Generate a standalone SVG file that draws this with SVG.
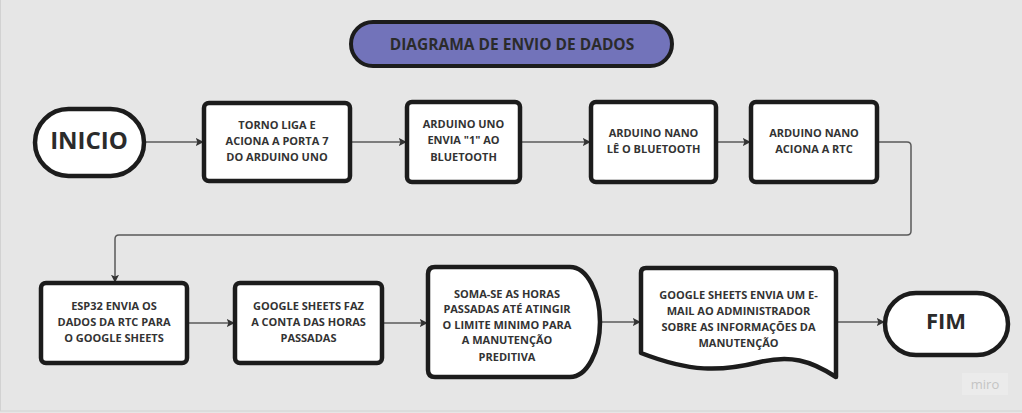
<svg xmlns="http://www.w3.org/2000/svg" width="1022" height="413" viewBox="0 0 1022 413">
  <defs>
    <style>
      .bg { fill: #e6e6e6; }
      .node { fill: #ffffff; stroke: #1c1c1c; stroke-width: 4.5; stroke-linejoin: round; }
      .title { fill: #7273ba; stroke: #1c1c1c; stroke-width: 4; }
      .t { font-family: "Open Sans", "Liberation Sans", sans-serif; font-weight: 700; font-size: 11px; fill: #333333; text-anchor: middle; }
      .big { font-family: "Open Sans", "Liberation Sans", sans-serif; font-weight: 700; fill: #2b2b2b; text-anchor: middle; }
      .conn { fill: none; stroke: #5a5a5a; stroke-width: 1.5; }
    </style>
    <marker id="arrow" viewBox="0 0 10 10" refX="9" refY="5" markerWidth="8" markerHeight="8" markerUnits="userSpaceOnUse" orient="auto">
      <path d="M0,0 L10,5 L0,10 L2,5 Z" fill="#333333"/>
    </marker>
  </defs>

  <rect class="bg" x="0" y="0" width="1022" height="413"/>
  <rect x="0.5" y="-1" width="1022" height="412" fill="none" stroke="#d2d2d2" stroke-width="1"/>

  <g id="connectors">
    <line class="conn" x1="144" y1="142" x2="203" y2="142" marker-end="url(#arrow)"/>
    <line class="conn" x1="350" y1="142" x2="406" y2="142" marker-end="url(#arrow)"/>
    <line class="conn" x1="520" y1="142" x2="590" y2="142" marker-end="url(#arrow)"/>
    <line class="conn" x1="716" y1="142" x2="750" y2="142" marker-end="url(#arrow)"/>
    <path class="conn" d="M877,142 H907 Q911,142 911,146 V231 Q911,235 907,235 H119 Q115,235 115,239 V282" marker-end="url(#arrow)"/>
    <line class="conn" x1="187" y1="323" x2="234" y2="323" marker-end="url(#arrow)"/>
    <line class="conn" x1="382" y1="323" x2="427" y2="323" marker-end="url(#arrow)"/>
    <line class="conn" x1="600" y1="322" x2="640" y2="322" marker-end="url(#arrow)"/>
    <line class="conn" x1="836" y1="322" x2="884" y2="322" marker-end="url(#arrow)"/>
  </g>

  <g id="title">
    <rect class="title" x="351" y="22" width="321" height="44" rx="22"/>
    <text class="big" x="512" y="49.5" font-size="15.5">DIAGRAMA DE ENVIO DE DADOS</text>
  </g>

  <g id="inicio">
    <rect class="node" x="35" y="109" width="109" height="67" rx="33.5"/>
    <text class="big" x="89" y="148.5" font-size="24">INICIO</text>
  </g>

  <g id="n1">
    <rect class="node" x="204" y="103" width="146" height="78" rx="5"/>
    <text class="t" x="277" y="129">TORNO LIGA E</text>
    <text class="t" x="277" y="145">ACIONA A PORTA 7</text>
    <text class="t" x="277" y="161">DO ARDUINO UNO</text>
  </g>

  <g id="n2">
    <rect class="node" x="407" y="102" width="113" height="80" rx="5"/>
    <text class="t" x="463.5" y="128">ARDUINO UNO</text>
    <text class="t" x="463.5" y="144">ENVIA "1" AO</text>
    <text class="t" x="463.5" y="160.5">BLUETOOTH</text>
  </g>

  <g id="n3">
    <rect class="node" x="591" y="102" width="125" height="80" rx="5"/>
    <text class="t" x="653.5" y="137">ARDUINO NANO</text>
    <text class="t" x="653.5" y="153">LÊ O BLUETOOTH</text>
  </g>

  <g id="n4">
    <rect class="node" x="751" y="102" width="126" height="80" rx="5"/>
    <text class="t" x="814" y="137">ARDUINO NANO</text>
    <text class="t" x="814" y="153">ACIONA A RTC</text>
  </g>

  <g id="n5">
    <rect class="node" x="41" y="283" width="146" height="80" rx="5"/>
    <text class="t" x="114" y="310">ESP32 ENVIA OS</text>
    <text class="t" x="114" y="326">DADOS DA RTC PARA</text>
    <text class="t" x="114" y="341.5">O GOOGLE SHEETS</text>
  </g>

  <g id="n6">
    <rect class="node" x="235" y="283" width="147" height="80" rx="5"/>
    <text class="t" x="308.5" y="310">GOOGLE SHEETS FAZ</text>
    <text class="t" x="308.5" y="326">A CONTA DAS HORAS</text>
    <text class="t" x="308.5" y="341.5">PASSADAS</text>
  </g>

  <g id="n7">
    <path class="node" d="M435,267 H570 A30,55 0 0 1 570,377 H435 Q428,377 428,370 V274 Q428,267 435,267 Z"/>
    <text class="t" x="507" y="297.5">SOMA-SE AS HORAS</text>
    <text class="t" x="507" y="313.3">PASSADAS ATÉ ATINGIR</text>
    <text class="t" x="507" y="328.5">O LIMITE MINIMO PARA</text>
    <text class="t" x="507" y="344.3">A MANUTENÇÃO</text>
    <text class="t" x="507" y="360.5">PREDITIVA</text>
  </g>

  <g id="n8">
    <path class="node" d="M646,268 H831 Q836,268 836,273 V377 C810,360 790,355 760,362 C720,372 690,372 641,353 V273 Q641,268 646,268 Z"/>
    <text class="t" x="738.5" y="298.5">GOOGLE SHEETS ENVIA UM E-</text>
    <text class="t" x="738.5" y="315">MAIL AO ADMINISTRADOR</text>
    <text class="t" x="738.5" y="331">SOBRE AS INFORMAÇÕES DA</text>
    <text class="t" x="738.5" y="346.7">MANUTENÇÃO</text>
  </g>

  <g id="fim">
    <rect class="node" x="885" y="293" width="123" height="62" rx="31"/>
    <text class="big" x="946" y="328.5" font-size="22">FIM</text>
  </g>

  <g id="watermark">
    <rect x="962" y="373" width="46" height="22" fill="#ebebeb"/>
    <text x="985" y="389" font-family="Open Sans, Liberation Sans, sans-serif" font-size="13" fill="#c4c4c4" text-anchor="middle">miro</text>
  </g>
</svg>
